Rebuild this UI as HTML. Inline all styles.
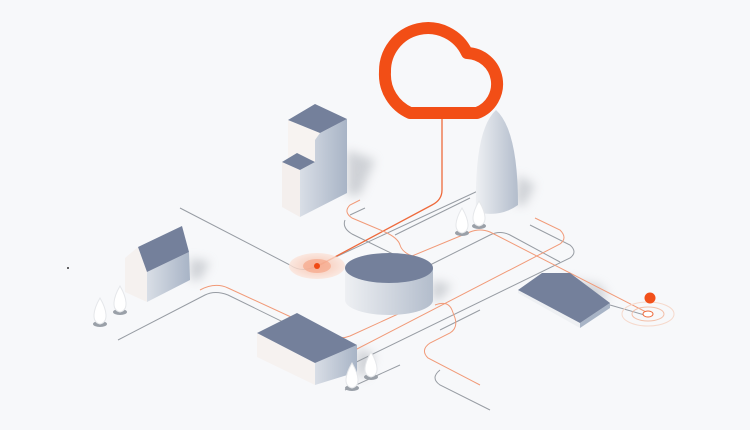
<!DOCTYPE html>
<html><head><style>
html,body{margin:0;padding:0;background:#f7f8fa;}
svg{display:block}
</style></head><body>
<svg width="750" height="430" viewBox="0 0 750 430" xmlns="http://www.w3.org/2000/svg">
<defs>
<linearGradient id="wall" x1="0" x2="1"><stop offset="0" stop-color="#d9dee6"/><stop offset="1" stop-color="#a8b4c6"/></linearGradient>
<linearGradient id="cyl" x1="0" x2="1"><stop offset="0" stop-color="#eef0f3"/><stop offset="1" stop-color="#b3bdcc"/></linearGradient>
<radialGradient id="halo"><stop offset="0" stop-color="#f7b9a0"/><stop offset="1" stop-color="#fbe4da"/></radialGradient>
<filter id="blur"><feGaussianBlur stdDeviation="5"/></filter>
</defs>
<rect width="750" height="430" fill="#f7f8fa"/>

<g fill="#c5c8cd" filter="url(#blur)" opacity="0.8">
<polygon points="347,150 375,160 360,195 347,195"/>
<polygon points="190,258 210,262 200,280 190,280"/>
<polygon points="432,280 452,285 440,300 432,300"/>
<polygon points="518,175 535,185 525,205 515,205"/>
<polygon points="357,348 375,355 365,378 357,375"/>
<polygon points="560,278 600,285 610,300 590,300"/>
</g>

<g fill="none" stroke="#979ca3" stroke-width="1">
<path d="M180,208 L290,265 Q300,272 312,268 L480,190"/>
<path d="M118,340 L205,295 Q215,290 228,295 L330,345"/>
<path d="M350,215 L365,208 M345,220 Q342,228 352,234 L395,255"/>
<path d="M395,235 L470,198"/>
<path d="M430,265 L490,235 Q500,230 510,235 L560,262"/>
<path d="M530,225 L570,245 Q578,252 570,258 L340,370"/>
<path d="M440,330 L480,310"/>
<path d="M440,370 Q430,378 440,385 L490,410"/>
<path d="M345,390 L400,365"/>
<path d="M610,305 L648,316"/>
</g>
<g fill="none" stroke="#f19a78" stroke-width="1">
<path d="M442,118 L442,190 Q442,200 432,205 L318,266" stroke="#ee6a3c" stroke-width="1.3"/>
<path d="M360,200 L350,205 Q343,212 352,218 L385,232 Q398,238 400,245 Q402,252 412,256 L470,232 Q480,228 490,232 L648,313"/>
<path d="M200,290 Q215,282 228,288 L330,335 Q340,340 350,336 L420,304"/>
<path d="M535,218 L560,230 Q568,238 560,244 L355,350"/>
<path d="M435,305 Q448,300 452,310 L455,318 Q458,328 450,333 L430,343 Q420,350 428,358 L480,385"/>
</g>

<ellipse cx="317" cy="266" rx="28" ry="13" fill="url(#halo)" opacity="0.8"/>
<ellipse cx="317" cy="266" rx="14" ry="7" fill="#f6a689" opacity="0.7"/>
<circle cx="317" cy="266" r="3" fill="#f04a14"/>
<ellipse cx="648" cy="314" rx="26" ry="12" fill="none" stroke="#f6d9cc" stroke-width="1"/>
<ellipse cx="648" cy="314" rx="16" ry="7" fill="none" stroke="#f3bfa8" stroke-width="1"/>
<ellipse cx="648" cy="314" rx="5" ry="3" fill="#fff" stroke="#ee6a3c" stroke-width="1"/>
<circle cx="650" cy="298" r="5.5" fill="#f2501a"/>

<polygon points="288,120 320,133 320,205 300,217 288,210" fill="#f7f3f1"/>
<polygon points="282,162 300,170 300,217 282,207" fill="#f4efed"/>
<polygon points="320,133 347,119 347,193 300,217 300,170 315,162 315,140" fill="url(#wall)"/>
<polygon points="288,120 315,104 347,119 320,133" fill="#74809b"/>
<polygon points="282,162 297,153 315,162 300,170" fill="#74809b"/>

<polygon points="125,258 138,247 147,272 147,302 125,292" fill="#f5f1ef"/>
<polygon points="147,272 189,252 190,280 147,302" fill="url(#wall)"/>
<polygon points="138,247 182,226 189,252 147,272" fill="#74809b"/>

<path d="M345,268 L345,300 A44 15 0 0 0 433,300 L433,268 Z" fill="url(#cyl)"/>
<ellipse cx="389" cy="268" rx="44" ry="15" fill="#74809b"/>

<path d="M476,212 Q474,130 496,110 Q518,130 518,205 Q500,218 476,212 Z" fill="url(#cyl)"/>

<polygon points="257,333 315,363 315,385 257,357" fill="#f6f2f0"/>
<polygon points="315,363 357,345 357,372 315,385" fill="url(#wall)"/>
<polygon points="257,333 297,313 357,345 315,363" fill="#74809b"/>

<polygon points="518,290 580,323 580,328 518,293" fill="#eef0f3"/>
<polygon points="580,323 610,303 610,308 580,328" fill="#a8b4c6"/>
<polygon points="518,290 542,273 570,273 610,303 580,323" fill="#74809b"/>

<path d="M410,113 L477,113 A31 31 0 0 0 467,53 A43 43 0 0 0 385,72 A42 42 0 0 0 410,113 Z" fill="none" stroke="#f24e16" stroke-width="12" stroke-linejoin="round"/>

<g>
<g transform="translate(100,318)"><ellipse cx="0" cy="6" rx="7" ry="3" fill="#9aa0a8"/><path d="M0,6 C-9,4 -7,-8 0,-20 C7,-8 9,4 0,6Z" fill="#fff" stroke="#e5e7ea"/></g>
<g transform="translate(120,306)"><ellipse cx="0" cy="6" rx="7" ry="3" fill="#9aa0a8"/><path d="M0,6 C-9,4 -7,-8 0,-20 C7,-8 9,4 0,6Z" fill="#fff" stroke="#e5e7ea"/></g>
<g transform="translate(462,228)"><ellipse cx="0" cy="5" rx="7" ry="3" fill="#9aa0a8"/><path d="M0,5 C-9,3 -7,-8 0,-20 C7,-8 9,3 0,5Z" fill="#fff" stroke="#e5e7ea"/></g>
<g transform="translate(479,221)"><ellipse cx="0" cy="5" rx="7" ry="3" fill="#9aa0a8"/><path d="M0,5 C-9,3 -7,-8 0,-20 C7,-8 9,3 0,5Z" fill="#fff" stroke="#e5e7ea"/></g>
<g transform="translate(352,383)"><ellipse cx="0" cy="5" rx="7" ry="3" fill="#9aa0a8"/><path d="M0,5 C-9,3 -7,-8 0,-20 C7,-8 9,3 0,5Z" fill="#fff" stroke="#e5e7ea"/></g>
<g transform="translate(371,372)"><ellipse cx="0" cy="5" rx="7" ry="3" fill="#9aa0a8"/><path d="M0,5 C-9,3 -7,-8 0,-20 C7,-8 9,3 0,5Z" fill="#fff" stroke="#e5e7ea"/></g>
</g>
<circle cx="68" cy="268" r="1" fill="#333"/>
</svg>
</body></html>
